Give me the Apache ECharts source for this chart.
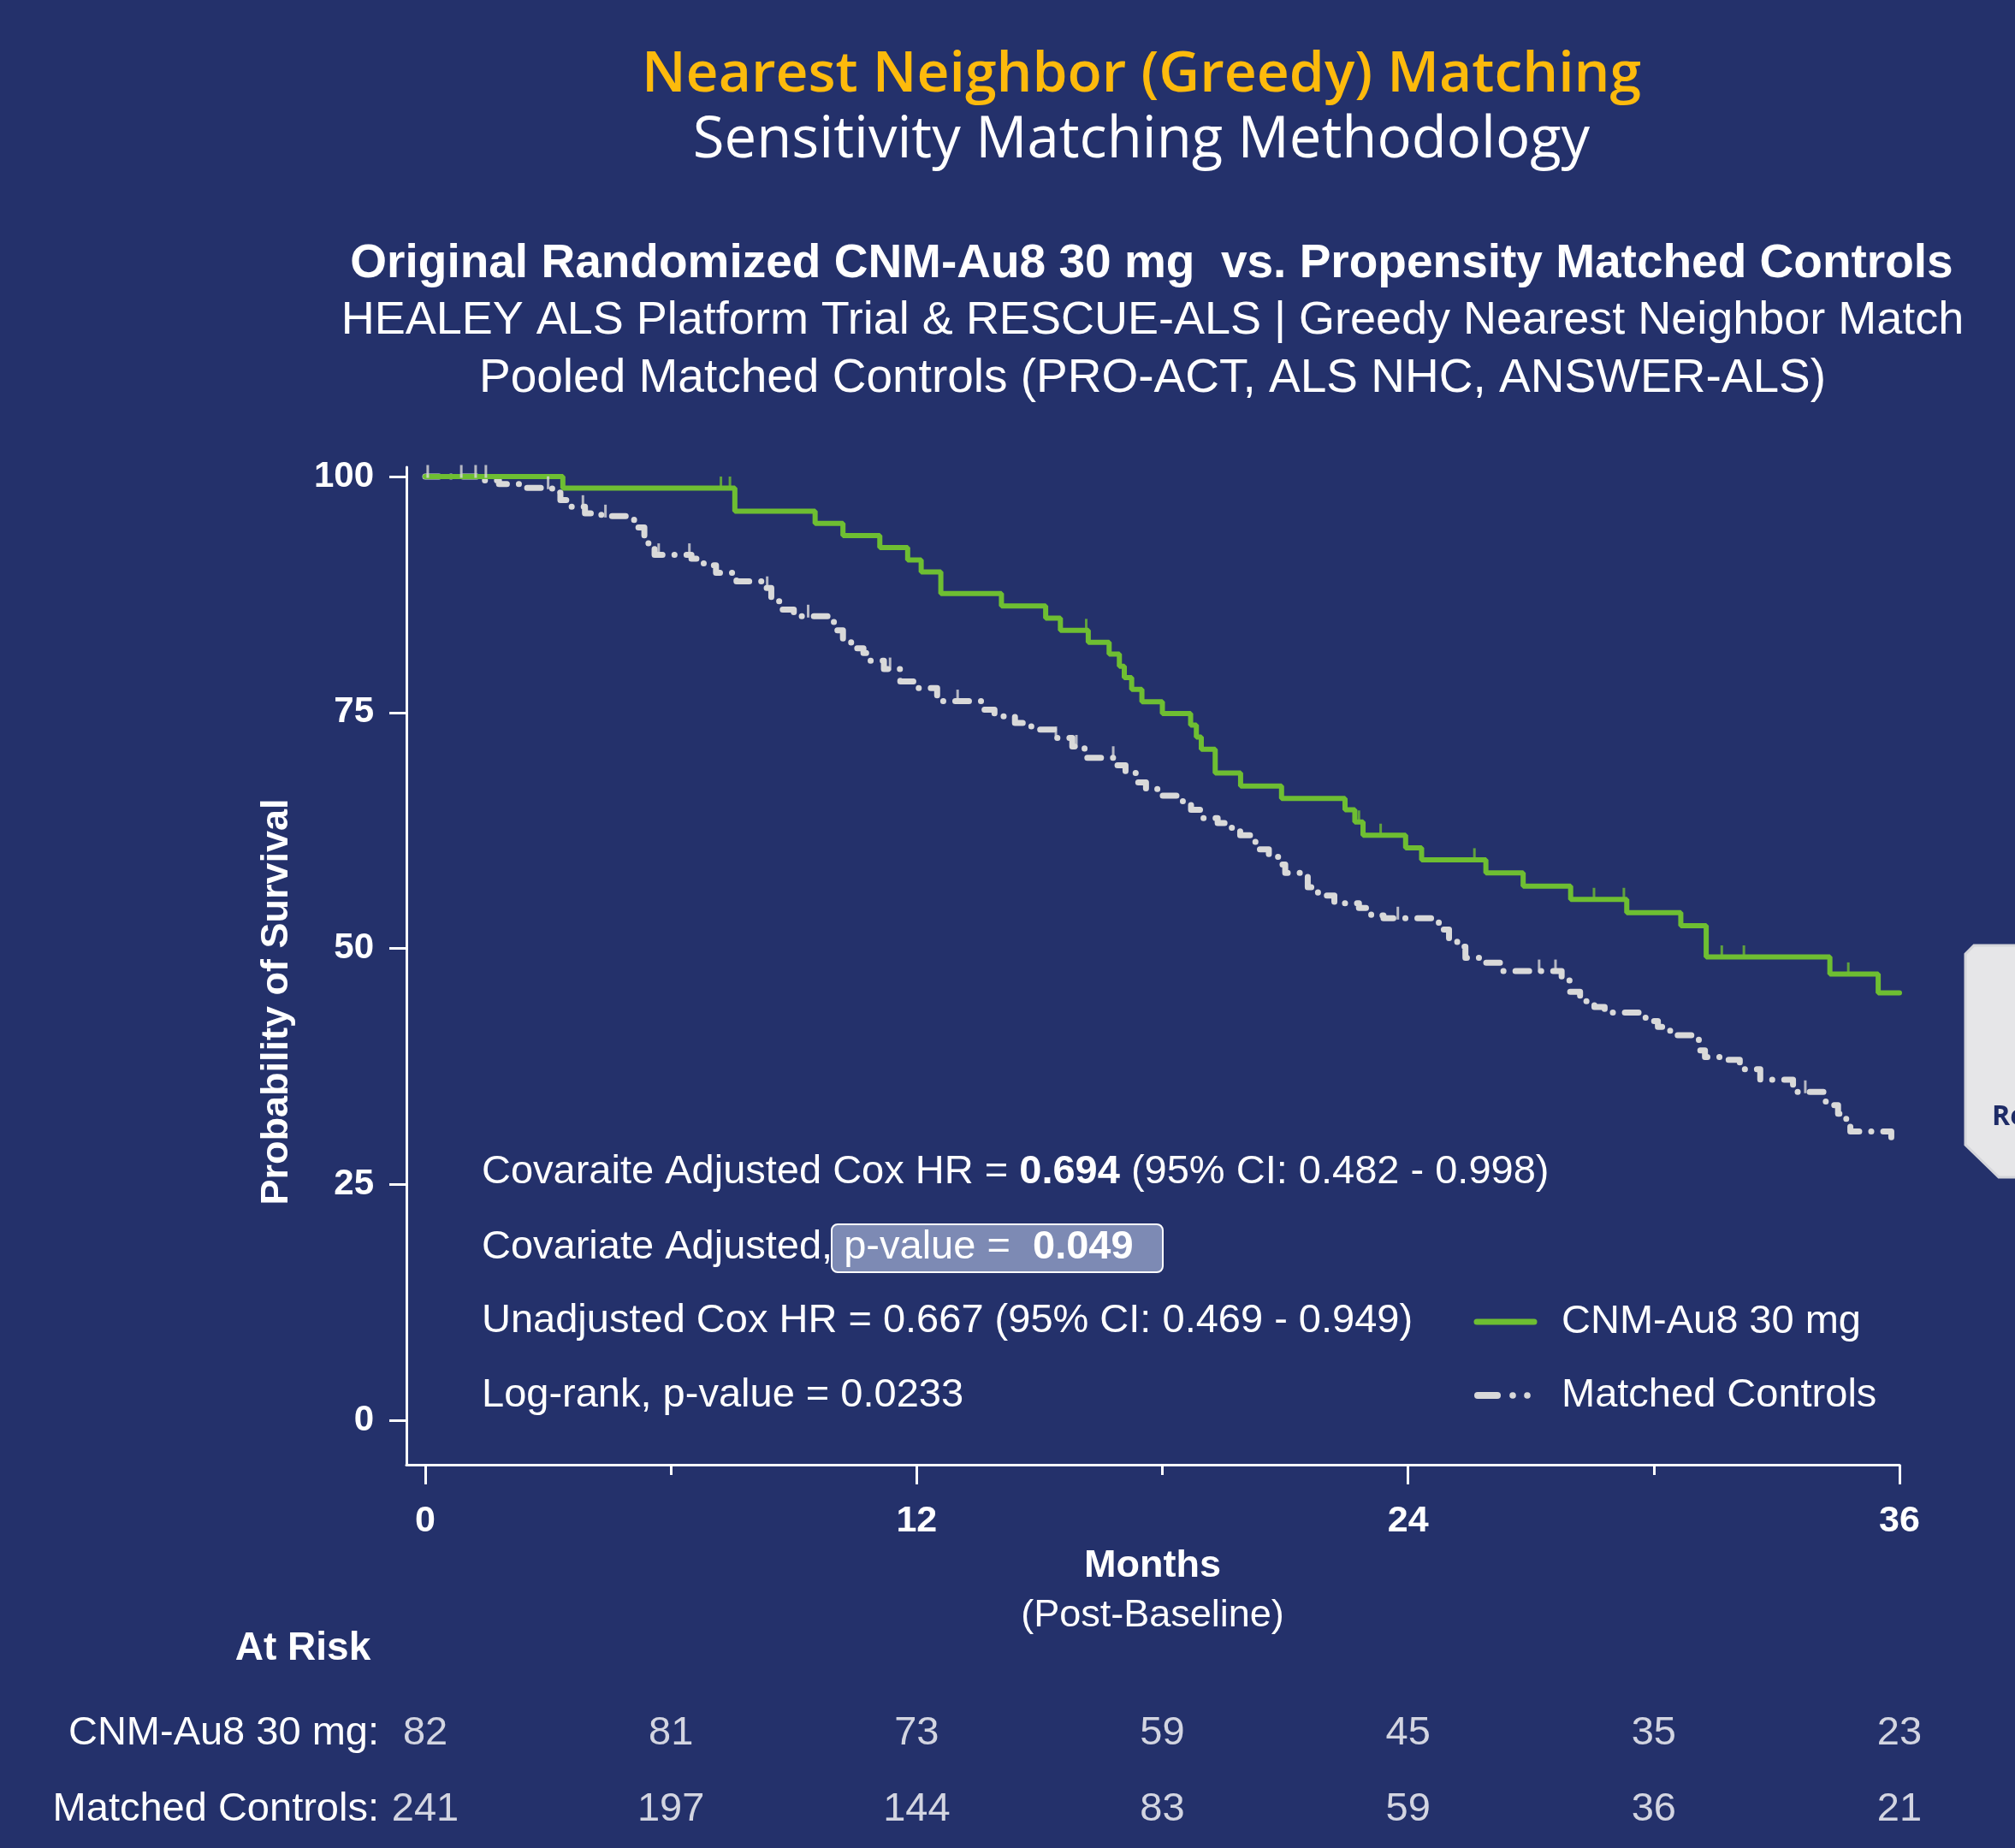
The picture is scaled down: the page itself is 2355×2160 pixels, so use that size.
<!DOCTYPE html>
<html><head><meta charset="utf-8">
<script src="https://cdn.jsdelivr.net/npm/echarts@6/dist/echarts.min.js"></script>
<style>html,body{margin:0;padding:0;background:#24316B;overflow:hidden}#c{width:2355px;height:2160px}</style>
</head><body><div id="c"></div>
<script>
// ---------- data ----------
const greenTimes = [0, 3.36, 7.56, 9.52, 10.2, 11.1, 11.78, 12.11, 12.59, 14.07, 15.15, 15.51, 16.19, 16.7, 16.95, 17.07, 17.25, 17.5, 18.0, 18.69, 18.83, 18.95, 19.29, 19.91, 20.91, 22.46, 22.7, 22.9, 23.94, 24.33, 25.9, 26.81, 27.97, 29.34, 30.66, 31.28, 34.3, 35.48, 36.0];
const greenSurv  = [100, 98.78, 96.34, 95.04, 93.74, 92.47, 91.17, 89.9, 87.6, 86.3, 85.0, 83.7, 82.44, 81.2, 79.9, 78.7, 77.45, 76.15, 74.9, 73.66, 72.4, 71.1, 68.6, 67.2, 65.9, 64.7, 63.4, 62.0, 60.65, 59.4, 58.0, 56.6, 55.2, 53.8, 52.4, 49.1, 47.3, 45.3, 45.3];
const ctrlTimes = [0, 1.3, 1.8, 2.4, 3.1, 3.3, 3.5, 3.9, 4.3, 5.1, 5.2, 5.35, 5.45, 5.6, 6.5, 6.8, 7.1, 7.6, 8.3, 8.45, 8.7, 9.0, 9.9, 10.0, 10.2, 10.4, 10.7, 10.85, 11.2, 11.6, 12.0, 12.5, 13.6, 13.9, 14.4, 14.8, 15.4, 15.8, 16.1, 16.9, 17.1, 17.35, 17.6, 17.9, 18.5, 18.7, 19.0, 19.35, 19.6, 19.9, 20.2, 20.35, 20.6, 20.85, 21.0, 21.55, 21.8, 22.2, 22.8, 23.1, 23.4, 24.65, 24.75, 25.0, 25.2, 25.4, 25.9, 26.3, 27.75, 27.95, 28.2, 28.55, 28.8, 29.8, 30.1, 30.4, 31.0, 31.1, 31.25, 31.8, 32.1, 32.6, 33.4, 33.5, 34.2, 34.5, 34.7, 34.8, 35.8, 35.85];
const ctrlSurv  = [100, 99.6, 99.2, 98.8, 98.3, 97.5, 96.8, 96.1, 95.8, 95.4, 94.6, 93.6, 92.4, 91.7, 91.3, 90.6, 89.8, 88.9, 88.2, 86.8, 85.9, 85.2, 84.6, 83.7, 82.8, 81.8, 81.3, 80.5, 79.6, 78.3, 77.6, 76.2, 75.3, 74.6, 73.9, 73.2, 72.3, 71.4, 70.2, 69.4, 68.6, 67.6, 66.9, 66.2, 65.3, 64.7, 63.8, 63.3, 62.8, 62.0, 61.3, 60.5, 59.7, 58.9, 58.0, 56.5, 55.6, 54.8, 54.3, 53.5, 53.2, 53.0, 52.0, 51.0, 50.2, 49.0, 48.5, 47.6, 46.6, 45.4, 44.4, 43.8, 43.2, 42.3, 41.7, 40.8, 40.4, 39.2, 38.5, 38.2, 37.2, 36.1, 35.5, 34.8, 33.4, 32.5, 31.5, 30.6, 29.3, 29.0];
const greenCensorTimes = [7.22, 7.44, 16.14, 22.8, 23.33, 25.62, 28.54, 29.27, 31.66, 32.2, 34.75];
const greenCensorSurv  = [98.78, 98.78, 83.7, 63.4, 62.0, 59.4, 55.2, 55.2, 49.1, 49.1, 47.3];
const ctrlCensorTimes = [0.06, 0.88, 1.23, 1.48, 3.0, 3.85, 4.4, 5.7, 6.45, 8.35, 9.35, 11.35, 13.0, 15.4, 15.9, 16.8, 23.75, 27.2, 27.6, 33.7];
const ctrlCensorSurv  = [100, 100, 100, 100, 98.8, 96.8, 95.8, 91.7, 91.7, 88.2, 85.2, 79.6, 76.2, 72.3, 71.4, 70.2, 53.2, 47.6, 47.6, 34.8];
const riskMonths = [0, 6, 12, 18, 24, 30, 36];
const riskCNM  = [82, 81, 73, 59, 45, 35, 23];
const riskCtrl = [241, 197, 144, 83, 59, 36, 21];
const riskRows = ['Matched Controls:', 'CNM-Au8 30 mg:'];
const yTicks = [0, 25, 50, 75, 100];
const xMajorTicks = [0, 12, 24, 36];
const xMinorTicks = [6, 18, 30];
const seriesNames = ['CNM-Au8 30 mg', 'Matched Controls'];

// ---------- style ----------
const BG = '#24316B', GREEN = '#6EBE32', GRAY = '#D9D9D9', GOLD = '#FDBA0C';
const SANS = '"Liberation Sans", Arial, sans-serif';
const GEO = '"Open Sans", "Noto Sans", sans-serif';
const X0 = -0.46, X1 = 36, Y0 = -4.7, Y1 = 101;
const GL = 475, GT = 546, GW = 1745, GH = 1166;

const chart = echarts.init(document.getElementById('c'), null, {renderer: 'canvas'});
const pair = (a, b) => a.map((t, i) => [t, b[i]]);

const riskData = [];
riskMonths.forEach((m, i) => {
  riskData.push([m, riskRows[1], riskCNM[i]]);
  riskData.push([m, riskRows[0], riskCtrl[i]]);
});

const txt = (x, y, text, font, color, align, extra) => Object.assign({
  type: 'text', x: x, y: y, silent: true,
  style: {text: text, font: font, fill: color, textAlign: align || 'center', textVerticalAlign: 'middle'}
}, extra || {});

const option = {
  backgroundColor: BG,
  animation: false,
  grid: [
    {left: GL, top: GT, width: GW, height: GH, containLabel: false},
    {left: GL, top: 1982, width: GW, height: 194, containLabel: false}
  ],
  xAxis: [
    {type: 'value', gridIndex: 0, min: X0, max: X1, position: 'bottom',
     axisLine: {show: true, onZero: false, lineStyle: {color: '#FFFFFF', width: 3}},
     axisTick: {show: true, customValues: xMajorTicks, length: 23, lineStyle: {color: '#FFFFFF', width: 3}},
     axisLabel: {show: true, customValues: xMajorTicks, margin: 45, color: '#FFFFFF', fontFamily: SANS, fontWeight: 'bold', fontSize: 43},
     splitLine: {show: false}},
    {type: 'value', gridIndex: 0, min: X0, max: X1, position: 'bottom',
     axisLine: {show: false, onZero: false},
     axisTick: {show: true, customValues: xMinorTicks, length: 12, lineStyle: {color: '#FFFFFF', width: 3}},
     axisLabel: {show: false}, splitLine: {show: false}},
    {type: 'value', gridIndex: 1, min: X0, max: X1, show: false}
  ],
  yAxis: [
    {type: 'value', gridIndex: 0, min: Y0, max: Y1,
     axisLine: {show: true, onZero: false, lineStyle: {color: '#FFFFFF', width: 3}},
     axisTick: {show: true, customValues: yTicks, length: 20, lineStyle: {color: '#FFFFFF', width: 3}},
     axisLabel: {show: true, customValues: yTicks, margin: 38, color: '#FFFFFF', fontFamily: SANS, fontWeight: 'bold', fontSize: 42},
     splitLine: {show: false}},
    {type: 'category', gridIndex: 1, data: riskRows,
     axisLine: {show: false}, axisTick: {show: false},
     axisLabel: {show: true, margin: 32, color: '#FFFFFF', fontFamily: SANS, fontSize: 47, align: 'right'}}
  ],
  series: [
    {name: seriesNames[1], type: 'line', xAxisIndex: 0, yAxisIndex: 0, step: 'end', symbol: 'none',
     data: pair(ctrlTimes, ctrlSurv),
     lineStyle: {color: GRAY, width: 7, type: [16, 14, 0.1, 14], cap: 'round', join: 'round'}, z: 2},
    {name: seriesNames[0], type: 'line', xAxisIndex: 0, yAxisIndex: 0, step: 'end', symbol: 'none',
     data: pair(greenTimes, greenSurv),
     lineStyle: {color: GREEN, width: 6, cap: 'round'}, z: 3},
    {type: 'scatter', xAxisIndex: 0, yAxisIndex: 0, data: pair(greenCensorTimes, greenCensorSurv),
     symbol: 'rect', symbolSize: [3, 15], symbolOffset: [0, -6], itemStyle: {color: GREEN}, z: 4, silent: true},
    {type: 'scatter', xAxisIndex: 0, yAxisIndex: 0, data: pair(ctrlCensorTimes, ctrlCensorSurv),
     symbol: 'rect', symbolSize: [3, 15], symbolOffset: [0, -6], itemStyle: {color: GRAY}, z: 4, silent: true},
    {type: 'scatter', xAxisIndex: 2, yAxisIndex: 1, data: riskData, symbolSize: 0, silent: true,
     label: {show: true, position: 'inside', color: '#FFFFFF', fontFamily: SANS, fontSize: 47,
             formatter: p => String(p.value[2])}}
  ],
  graphic: [
    txt(1334, 88, 'Nearest Neighbor (Greedy) Matching', '600 66px ' + GEO, GOLD),
    txt(1334, 165, 'Sensitivity Matching Methodology', '400 67px ' + GEO, '#FFFFFF'),
    txt(1346, 309, 'Original Randomized CNM-Au8 30 mg  vs. Propensity Matched Controls', 'bold 55px ' + SANS, '#FFFFFF'),
    txt(1347, 375, 'HEALEY ALS Platform Trial & RESCUE-ALS | Greedy Nearest Neighbor Match', '54px ' + SANS, '#FFFFFF'),
    txt(1347, 443, 'Pooled Matched Controls (PRO-ACT, ALS NHC, ANSWER-ALS)', '55px ' + SANS, '#FFFFFF'),
    txt(324, 1171, 'Probability of Survival', 'bold 45px ' + SANS, '#FFFFFF', 'center', {rotation: Math.PI / 2}),
    txt(1347, 1831, 'Months', 'bold 45px ' + SANS, '#FFFFFF'),
    txt(1347, 1889, '(Post-Baseline)', '45px ' + SANS, '#FFFFFF'),
    txt(354, 1927, 'At Risk', 'bold 46px ' + SANS, '#FFFFFF'),
    // annotations
    {type: 'text', x: 563, y: 1370, silent: true, style: {
      text: '{a|Covaraite Adjusted Cox HR = }{b|0.694}{a| (95% CI: 0.482 - 0.998)}',
      textVerticalAlign: 'middle',
      rich: {a: {font: '47px ' + SANS, fill: '#FFFFFF'}, b: {font: 'bold 47px ' + SANS, fill: '#FFFFFF'}}}},
    {type: 'rect', shape: {x: 972, y: 1431, width: 387, height: 56, r: 7}, silent: true,
     style: {fill: '#7D8AB4', stroke: '#FFFFFF', lineWidth: 2}},
    {type: 'text', x: 563, y: 1458, silent: true, style: {
      text: '{a|Covariate Adjusted,}{a| p-value =  }{b|0.049}',
      textVerticalAlign: 'middle',
      rich: {a: {font: '47px ' + SANS, fill: '#FFFFFF'}, b: {font: 'bold 47px ' + SANS, fill: '#FFFFFF'}}}},
    txt(563, 1544, 'Unadjusted Cox HR = 0.667 (95% CI: 0.469 - 0.949)', '47px ' + SANS, '#FFFFFF', 'left'),
    txt(563, 1631, 'Log-rank, p-value = 0.0233', '47px ' + SANS, '#FFFFFF', 'left'),
    // legend
    {type: 'line', shape: {x1: 1726, y1: 1545, x2: 1793, y2: 1545}, silent: true,
     style: {stroke: GREEN, lineWidth: 7, lineCap: 'round'}},
    {type: 'line', shape: {x1: 1727, y1: 1631, x2: 1750, y2: 1631}, silent: true,
     style: {stroke: GRAY, lineWidth: 8, lineCap: 'round'}},
    {type: 'circle', shape: {cx: 1768, cy: 1631, r: 3.8}, silent: true, style: {fill: GRAY}},
    {type: 'circle', shape: {cx: 1785, cy: 1631, r: 3.8}, silent: true, style: {fill: GRAY}},
    txt(1825, 1545, seriesNames[0], '47px ' + SANS, '#FFFFFF', 'left'),
    txt(1825, 1631, seriesNames[1], '47px ' + SANS, '#FFFFFF', 'left'),
    // side widget
    {type: 'polygon', silent: true,
     shape: {points: [[2297, 1115], [2307, 1105], [2360, 1105], [2360, 1376], [2336, 1376], [2297, 1338]]},
     style: {fill: '#E6E6E8', stroke: '#D4D5DA', lineWidth: 3}},
    txt(2328, 1306, 'Re', 'bold 32px ' + GEO, '#1E2B66', 'left')
  ]
};
chart.setOption(option);
</script></body></html>
